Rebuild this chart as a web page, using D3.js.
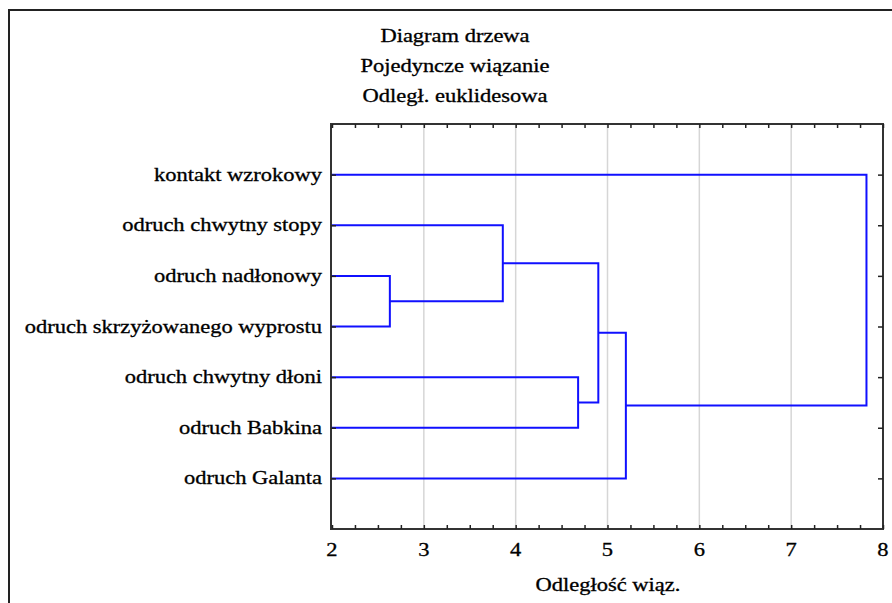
<!DOCTYPE html>
<html>
<head>
<meta charset="utf-8">
<script src="https://cdn.jsdelivr.net/npm/d3@7"></script>
<style>
  html, body { margin: 0; padding: 0; background: #fff; }
  svg { display: block; }
  text { font-family: "Liberation Serif", "Times New Roman", serif; fill: #000; stroke: #000; stroke-width: 0.3; }
</style>
</head>
<body>
<div id="chart"></div>
<script>
// Dendrogram (single linkage, euclidean) drawn with D3.

const titleLines = ['Diagram drzewa', 'Pojedyncze wiązanie', 'Odległ. euklidesowa'];
const xLabel = 'Odległość wiąz.';

// leaves in display order, top to bottom
const leaves = [
  'kontakt wzrokowy',
  'odruch chwytny stopy',
  'odruch nadłonowy',
  'odruch skrzyżowanego wyprostu',
  'odruch chwytny dłoni',
  'odruch Babkina',
  'odruch Galanta',
];

// merges: [left child, right child, linkage distance]
// children are leaf names or ids of earlier merges (m0, m1, ...)
const merges = [
  ['odruch nadłonowy', 'odruch skrzyżowanego wyprostu', 2.63],
  ['odruch chwytny stopy', 'm0', 3.86],
  ['odruch chwytny dłoni', 'odruch Babkina', 4.68],
  ['m1', 'm2', 4.90],
  ['m3', 'odruch Galanta', 5.20],
  ['kontakt wzrokowy', 'm4', 7.82],
];

const xTicks = [2, 3, 4, 5, 6, 7, 8];
const xDomain = [2, 8];

const width = 892, height = 603;
const m = { left: 332, right: 883, top: 124, bottom: 529 };
const SX = 1.25; // the source renders its serif text wide

const svg = d3.select('#chart').append('svg')
  .attr('width', width).attr('height', height);

// outer panel border (only left/top visible in the crop)
svg.append('rect')
  .attr('x', 9).attr('y', 10).attr('width', 900).attr('height', 620)
  .attr('fill', 'none').attr('stroke', '#222').attr('stroke-width', 2);

const x = d3.scaleLinear().domain(xDomain).range([m.left, m.right]);
const y = d3.scalePoint().domain(leaves).range([m.top, m.bottom]).padding(1);

// vertical grid
svg.append('g').selectAll('line')
  .data(xTicks.filter(t => t > xDomain[0] && t < xDomain[1]))
  .join('line')
  .attr('x1', d => x(d)).attr('x2', d => x(d))
  .attr('y1', m.top).attr('y2', m.bottom)
  .attr('stroke', '#d6d6d6').attr('stroke-width', 1.5);

// dendrogram links
const pos = {};
leaves.forEach(l => { pos[l] = { x: x(xDomain[0]), y: y(l) }; });
const links = svg.append('g').attr('fill', 'none')
  .attr('stroke', '#1010ff').attr('stroke-width', 2);
merges.forEach((mg, i) => {
  const a = pos[mg[0]], b = pos[mg[1]];
  const hx = x(mg[2]);
  links.append('path')
    .attr('d', `M${a.x},${a.y}H${hx}V${b.y}H${b.x}`);
  pos['m' + i] = { x: hx, y: (a.y + b.y) / 2 };
});

// plot frame
svg.append('rect')
  .attr('x', m.left - 1).attr('y', m.top)
  .attr('width', m.right - m.left + 1).attr('height', m.bottom - m.top)
  .attr('fill', 'none').attr('stroke', '#333').attr('stroke-width', 2);

// inward ticks: bottom/top (x) and left/right (leaves)
const minor = d3.range(xDomain[0], xDomain[1] + 0.001, 0.25);
const bottomAx = d3.axisTop(x).tickValues(minor).tickSize(4).tickFormat('');
const topAx = d3.axisBottom(x).tickValues(minor).tickSize(4).tickFormat('');
[svg.append('g').attr('transform', `translate(0,${m.bottom})`).call(bottomAx),
 svg.append('g').attr('transform', `translate(0,${m.top})`).call(topAx)]
  .forEach(g => {
    g.select('.domain').remove();
    g.selectAll('.tick line').attr('stroke', '#222').attr('stroke-width', 1.5);
  });

const leftAx = d3.axisRight(y).tickSize(5).tickFormat('');
const rightAx = d3.axisLeft(y).tickSize(5).tickFormat('');
[svg.append('g').attr('transform', `translate(${m.left - 1},0)`).call(leftAx),
 svg.append('g').attr('transform', `translate(${m.right},0)`).call(rightAx)]
  .forEach(g => {
    g.select('.domain').remove();
    g.selectAll('.tick line').attr('stroke', '#222').attr('stroke-width', 1.5);
  });

// wide text helper: place at (tx, ty), stretched horizontally
function wideText(sel, tx, ty) {
  return sel.attr('transform', (d, i) => `translate(${tx(d, i)},${ty(d, i)}) scale(${SX},1)`);
}

// leaf labels
svg.append('g').selectAll('text')
  .data(leaves).join('text')
  .call(wideText, () => 322, d => y(d) + 6)
  .attr('text-anchor', 'end')
  .attr('font-size', 18)
  .text(d => d);

// x tick labels
svg.append('g').selectAll('text')
  .data(xTicks).join('text')
  .call(wideText, d => x(d), () => 556)
  .attr('text-anchor', 'middle')
  .attr('font-size', 18)
  .text(d => d);

svg.append('text')
  .datum(xLabel)
  .call(wideText, () => 608, () => 591)
  .attr('text-anchor', 'middle').attr('font-size', 18)
  .text(d => d);

// title
svg.append('g').selectAll('text')
  .data(titleLines).join('text')
  .call(wideText, () => 455, (d, i) => 42 + i * 30)
  .attr('text-anchor', 'middle')
  .attr('font-size', 18)
  .text(d => d);
</script>
</body>
</html>
